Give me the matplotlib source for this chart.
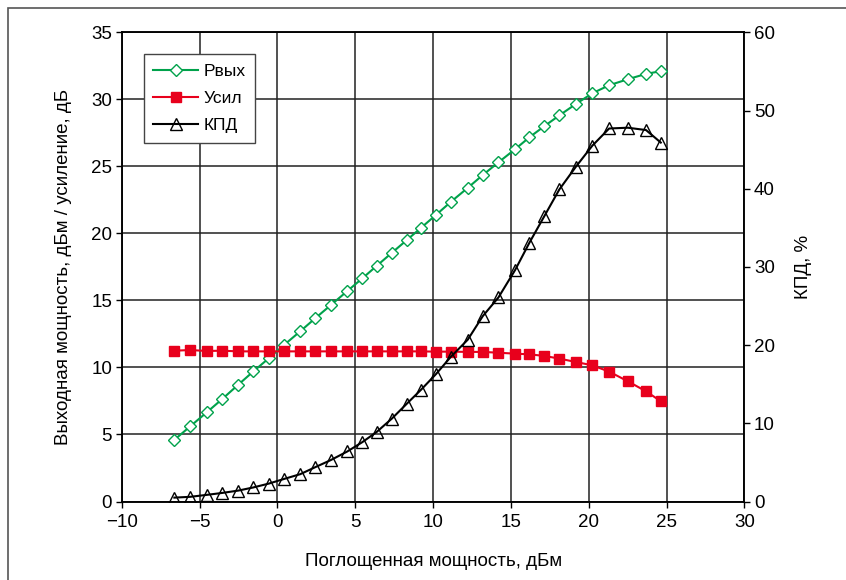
import matplotlib.pyplot as plt
from matplotlib.patches import Rectangle

plt.rcParams['font.family'] = ['Liberation Sans', 'DejaVu Sans']

# absorbed power, dBm
p_abs = [-6.62, -5.61, -4.54, -3.54, -2.51, -1.55, -0.54, 0.45, 1.47, 2.44,
         3.43, 4.49, 5.46, 6.38, 7.35, 8.31, 9.23, 10.19, 11.14, 12.23,
         13.19, 14.20, 15.27, 16.19, 17.15, 18.11, 19.17, 20.23, 21.31, 22.51,
         23.68, 24.63]

# output power, dBm
p_out = [4.6, 5.6, 6.65, 7.65, 8.72, 9.7, 10.7, 11.7, 12.7, 13.68,
         14.65, 15.7, 16.65, 17.58, 18.55, 19.5, 20.42, 21.38, 22.35, 23.4,
         24.35, 25.3, 26.28, 27.17, 28.0, 28.8, 29.65, 30.45, 31.05, 31.5,
         31.9, 32.1]

# gain, dB
gain = [11.25, 11.3, 11.23, 11.25, 11.2, 11.2, 11.2, 11.2, 11.2, 11.2,
        11.2, 11.2, 11.2, 11.2, 11.2, 11.2, 11.2, 11.18, 11.18, 11.16,
        11.16, 11.1, 11.03, 10.98, 10.86, 10.66, 10.41, 10.16, 9.69, 8.97,
        8.22, 7.48]

# efficiency, %
kpd = [0.5, 0.6, 0.85, 1.1, 1.4, 1.8, 2.3, 2.9, 3.5, 4.4,
       5.3, 6.4, 7.6, 8.9, 10.6, 12.5, 14.3, 16.3, 18.5, 20.7,
       23.7, 26.1, 29.6, 33.1, 36.5, 39.9, 42.8, 45.5, 47.7, 47.8,
       47.5, 45.9]

green = '#00A24B'
red = '#E8001C'

fig = plt.figure(figsize=(8.46, 5.8), dpi=100)
ax1 = fig.add_axes([0.1439, 0.1353, 0.7360, 0.8090])
ax2 = ax1.twinx()

l1, = ax1.plot(p_abs, p_out, color=green, lw=1.5, marker='D', ms=6,
               mfc='white', mec=green, mew=1.0, label='Pвых')
l2, = ax1.plot(p_abs, gain, color=red, lw=1.5, marker='s', ms=6.5,
               mfc=red, mec=red, label='Усил')
l3, = ax2.plot(p_abs, kpd, color='black', lw=1.5, marker='^', ms=9,
               mfc='none', mec='black', mew=1.0, label='КПД')

ax1.set_xlim(-10, 30)
ax1.set_ylim(0, 35)
ax2.set_ylim(0, 60)
ax1.set_xticks(range(-10, 31, 5))
ax1.set_xticklabels([str(v).replace('-', '\u2212') for v in range(-10, 31, 5)])
ax1.set_yticks(range(0, 36, 5))
ax2.set_yticks(range(0, 61, 10))

ax1.grid(True, color='#222222', lw=1.1)
ax1.set_axisbelow(True)
for ax in (ax1, ax2):
    ax.tick_params(direction='out', length=4, width=1, labelsize=13.5, pad=3)
    for s in ax.spines.values():
        s.set_linewidth(1.1)
ax1.tick_params(axis='x', pad=5)

ax1.set_xlabel('Поглощенная мощность, дБм', fontsize=13.5, labelpad=16)
ax1.set_ylabel('Выходная мощность, дБм / усиление, дБ', fontsize=13.5, labelpad=14)
ax2.set_ylabel('КПД, %', fontsize=13.5, labelpad=14)

leg = ax2.legend(handles=[l1, l2, l3], loc='upper left',
                 bbox_to_anchor=(0.035, 0.954), borderaxespad=0,
                 fontsize=12.5, fancybox=False, framealpha=1,
                 edgecolor='#444444', handlelength=2.6, labelspacing=0.7,
                 borderpad=0.55, handletextpad=0.3)
leg.get_frame().set_linewidth(1.0)

fig.patches.append(Rectangle((8 / 846, -0.1), 1.2, 1 - 8 / 580 + 0.1,
                             transform=fig.transFigure, fill=False,
                             edgecolor='#555555', lw=1.2))

fig.savefig('out.png', dpi=100)
